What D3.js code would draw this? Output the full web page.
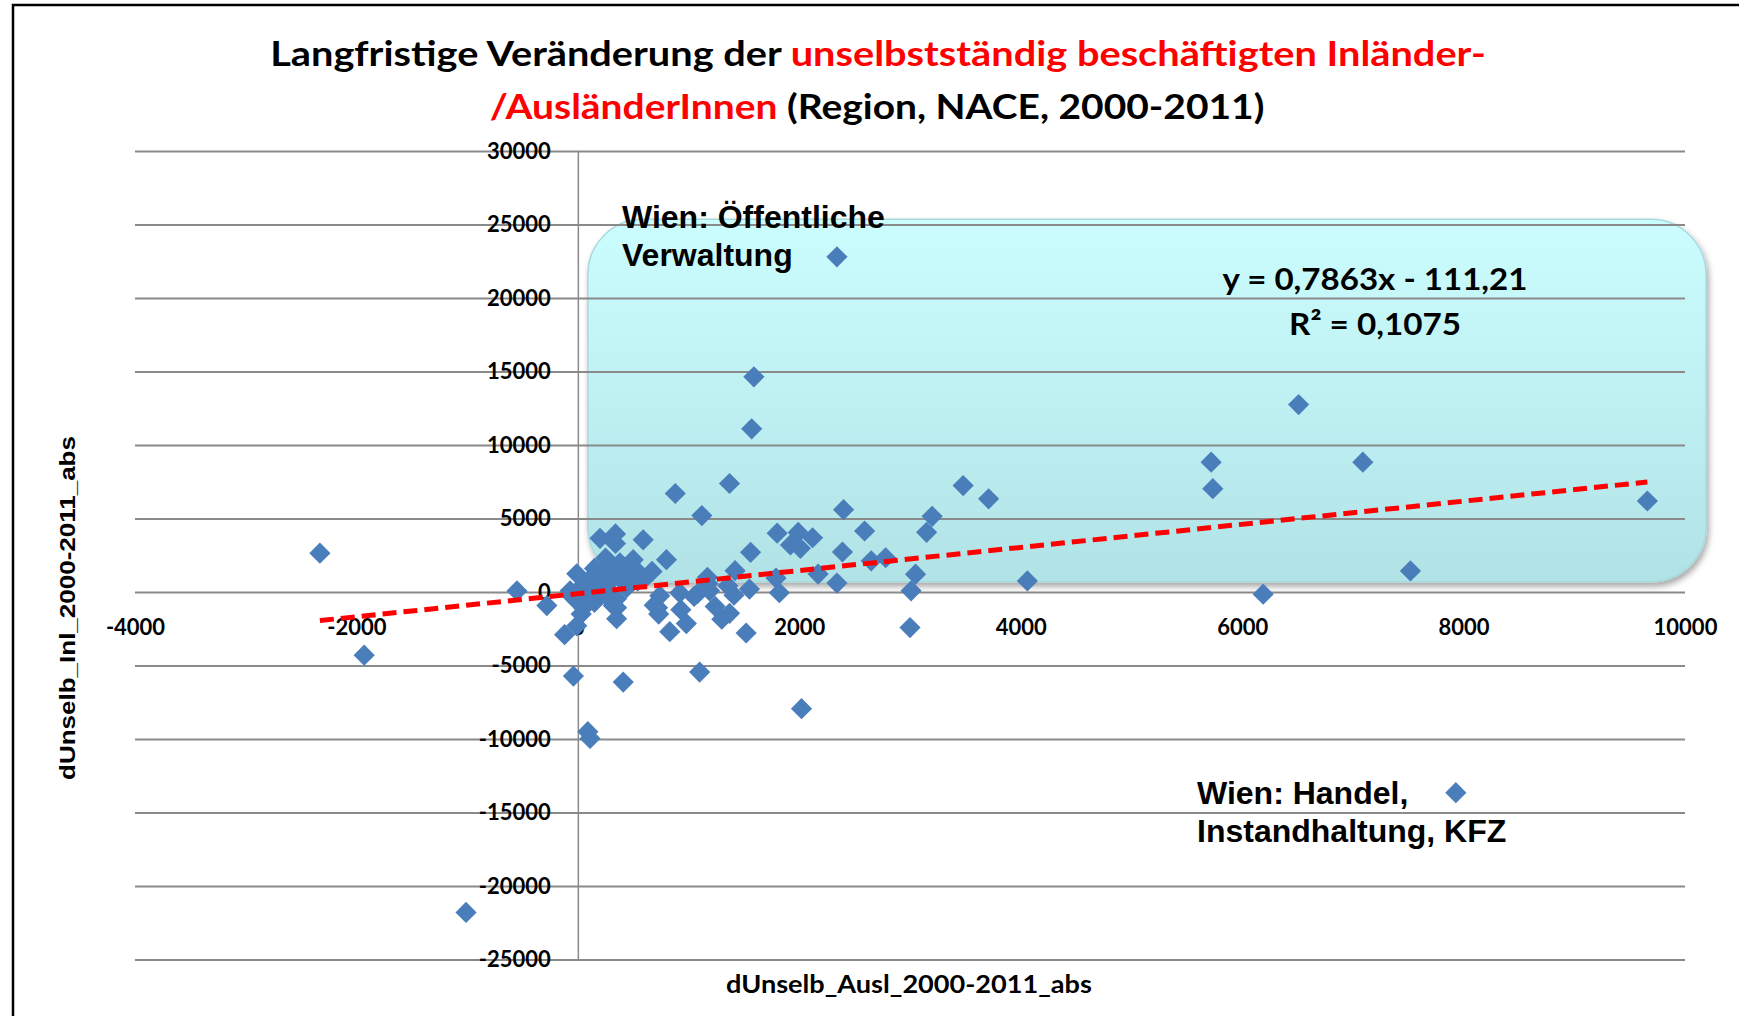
<!DOCTYPE html>
<html>
<head>
<meta charset="utf-8">
<script src="https://cdn.jsdelivr.net/npm/d3@7"></script>
<style>
  body { margin: 0; background: #fff; }
  svg { display: block; }
</style>
</head>
<body>
<svg id="chart" width="1739" height="1016"></svg>
<script>
// Werte (x = dUnselb_Ausl, y = dUnselb_Inl)
const ausl = [-2330, -1930, -1010, -550, -280, -120, -40, 90, 110, 410, 1100, 2020, 2340, 1590, 1570, 1370, 880, 1120,
  6510, 5720, 7090, 5735, 3480, 3710, 9660, 2400, 3200, 3150, 2590, 4060, 6190, 7520, 7930, 3010, 3000, 3050,
  2780, 2650, 2390, 2340, 2170, 2120, 1990, 1920, 2010, 1800, 1790, 1820, 1560, 1550, 1520, 1420, 1410, 1370,
  1300, 1240, 1170, 1050, 920, 930, 980, 830, 800, 730, 690, 590, 670, 540, 340, 340, 200, 350, 320,
  290, 380, 470, -10, 110, 200, 320, 440, 560, -70, -10, 80, 170, 260, 350, 440, 350, 740, 720, 1080, 1190,
  -10, 50, 1355, 1175, 50, 150, 250, 100, -50, 30, 200, 400, 300, 150, 600, 500, 250, 420];
const inl = [2640, -4300, -21800, 75, -920, -2900, -5720, -9500, -9960, -6130, -5450, -7940, 22800, 14640, 11100, 7380, 6700, 5200,
  12750, 8830, 8830, 7030, 7240, 6340, 6190, 5600, 5150, 4060, 4150, 750, -150, 1430, -13650, 80, -2420, 1210,
  2330, 2120, 2720, 610, 1220, 3690, 4050, 3200, 2970, 4000, 950, -50, 2700, 200, -2790, 1450, -220, -1450,
  -1850, -980, 1000, -300, -60, -1200, -2150, -2700, 2200, -1500, -900, 3550, 1400, 750, 3950, 3300, 3650, -1820, -920,
  1990, 1990, 1920, 1240, 900, 1300, 960, 1300, 1240, 80, -600, -400, -120, 290, -460, 290, -1070, -260, -1070, -120, 80,
  -2300, -1070, 420, 560, 500, 1600, 2300, 300, -300, -1500, 700, 1200, 1700, -700, 900, 2200, -200, 600];

const xTicks = [-4000, -2000, 0, 2000, 4000, 6000, 8000, 10000];
const yTicks = [-25000, -20000, -15000, -10000, -5000, 0, 5000, 10000, 15000, 20000, 25000, 30000];

// Trendlinie laut Excel
const slope = 0.7863, intercept = -111.21;
const trendText = ["y = 0,7863x - 111,21", "R² = 0,1075"];

// beschriftete Punkte
const labelled = [
  { x: 2340, y: 22800, lines: ["Wien: Öffentliche", "Verwaltung"], lx: 622, ly: 228 },
  { x: 7930, y: -13650, lines: ["Wien: Handel,", "Instandhaltung, KFZ"], lx: 1197, ly: 804 }
];

const svg = d3.select("#chart");
const xs = d3.scaleLinear().domain([-4000, 10000]).range([135, 1685]);
const ys = d3.scaleLinear().domain([-25000, 30000]).range([959.5, 151]);

const blue = "#4a7ebb", grid = "#8a8a8a";
const calibri = "Lato, 'Open Sans', sans-serif";
const arial = "'Liberation Sans', Arial, sans-serif";

// Text horizontal auf Zielbreite bringen (Calibri ist schmaler als Lato)
function fit(g, target) {
  const w = g.node().getBBox().width;
  const t = g.attr("transform") || "";
  g.attr("transform", t + ` scale(${target / w},1)`);
}

// Rahmen links und oben
svg.append("path").attr("d", "M13,1016V5H1739").attr("fill", "none").attr("stroke", "#000").attr("stroke-width", 2.5);

// Hintergrundfeld (abgerundetes Rechteck mit Verlauf)
const defs = svg.append("defs");
const grad = defs.append("linearGradient").attr("id", "boxGrad").attr("x1", 0).attr("y1", 0).attr("x2", 0).attr("y2", 1);
grad.append("stop").attr("offset", "0%").attr("stop-color", "#ccfdfe");
grad.append("stop").attr("offset", "100%").attr("stop-color", "#b1e2e6");
const sh = defs.append("filter").attr("id", "shadow").attr("x", "-5%").attr("y", "-5%").attr("width", "110%").attr("height", "115%");
sh.append("feDropShadow").attr("dx", 2).attr("dy", 4).attr("stdDeviation", 3).attr("flood-color", "#000").attr("flood-opacity", 0.35);

const boxX = [90, 10190], boxY = [25350, 700];
svg.append("rect")
  .attr("x", xs(boxX[0])).attr("y", ys(boxY[0]))
  .attr("width", xs(boxX[1]) - xs(boxX[0])).attr("height", ys(boxY[1]) - ys(boxY[0]))
  .attr("rx", 55).attr("ry", 55)
  .attr("fill", "url(#boxGrad)").attr("stroke", "#a8dade").attr("stroke-width", 1.5)
  .attr("filter", "url(#shadow)");

// horizontale Gitternetzlinien
const gridG = svg.append("g").attr("transform", `translate(${xs(-4000)},0)`)
  .call(d3.axisRight(ys).tickValues(yTicks).tickSize(xs(10000) - xs(-4000)).tickFormat(""));
gridG.select(".domain").remove();
gridG.selectAll("line").attr("stroke", grid).attr("stroke-width", 2);

// y-Achse bei x = 0
const yAx = svg.append("g").attr("transform", `translate(${xs(0)},0)`)
  .call(d3.axisLeft(ys).tickValues(yTicks).tickSize(0).tickPadding(27).tickFormat(d => String(d)));
yAx.select(".domain").attr("stroke", grid).attr("stroke-width", 1.5);
yAx.selectAll("text").attr("font-family", calibri).attr("font-weight", 700).attr("font-size", 22).attr("fill", "#000");

// x-Achse bei y = 0 (Beschriftung unterhalb)
const xAx = svg.append("g").attr("transform", `translate(0,${ys(0)})`)
  .call(d3.axisBottom(xs).tickValues(xTicks).tickSize(0).tickPadding(27).tickFormat(d => String(d)));
xAx.select(".domain").remove();
xAx.selectAll("text").attr("font-family", calibri).attr("font-weight", 700).attr("font-size", 22).attr("fill", "#000");

// Punkte
const pts = d3.range(ausl.length).map(i => ({ x: ausl[i], y: inl[i] }));
const diamond = d3.symbol(d3.symbolSquare, 225);
svg.append("g").selectAll("path").data(pts).join("path")
  .attr("d", diamond)
  .attr("transform", d => `translate(${xs(d.x)},${ys(d.y)}) rotate(45)`)
  .attr("fill", blue);

// Trendlinie
const xExt = d3.extent(ausl);
svg.append("line")
  .attr("x1", xs(xExt[0])).attr("y1", ys(slope * xExt[0] + intercept))
  .attr("x2", xs(xExt[1])).attr("y2", ys(slope * xExt[1] + intercept))
  .attr("stroke", "#ff0000").attr("stroke-width", 5).attr("stroke-dasharray", "14,7");

// Gleichung
trendText.forEach((t, i) => {
  const g = svg.append("g").attr("transform", `translate(1375,${290 + i * 45})`);
  g.append("text").attr("text-anchor", "middle").attr("font-family", calibri).attr("font-weight", 700)
    .attr("font-size", 31).attr("fill", "#000").text(t);
  fit(g, i === 0 ? 305 : 172);
});

// Datenbeschriftungen
labelled.forEach(l => {
  l.lines.forEach((t, i) => {
    svg.append("text").attr("x", l.lx).attr("y", l.ly + i * 38)
      .attr("font-family", arial).attr("font-weight", 700).attr("font-size", 32).attr("fill", "#000").text(t);
  });
});

// Titel
const t1 = svg.append("g").attr("transform", "translate(878,66)");
const tx1 = t1.append("text").attr("text-anchor", "middle").attr("font-family", calibri).attr("font-weight", 700).attr("font-size", 34);
tx1.append("tspan").attr("fill", "#000").text("Langfristige Veränderung der ");
tx1.append("tspan").attr("fill", "#ff0000").text("unselbstständig beschäftigten Inländer-");
fit(t1, 1216);
const t2 = svg.append("g").attr("transform", "translate(877,119)");
const tx2 = t2.append("text").attr("text-anchor", "middle").attr("font-family", calibri).attr("font-weight", 700).attr("font-size", 34);
tx2.append("tspan").attr("fill", "#ff0000").text("/AusländerInnen");
tx2.append("tspan").attr("fill", "#000").text(" (Region, NACE, 2000-2011)");
fit(t2, 775);

// Achsentitel
const yt = svg.append("g").attr("transform", "translate(75,608) rotate(-90)");
yt.append("text").attr("text-anchor", "middle").attr("font-family", arial).attr("font-weight", 700)
  .attr("font-size", 22).attr("fill", "#000").text("dUnselb_Inl_2000-2011_abs");
fit(yt, 344);
const xt = svg.append("g").attr("transform", "translate(909,993)");
xt.append("text").attr("text-anchor", "middle").attr("font-family", calibri).attr("font-weight", 700)
  .attr("font-size", 25).attr("fill", "#000").text("dUnselb_Ausl_2000-2011_abs");
fit(xt, 366);
</script>
</body>
</html>
